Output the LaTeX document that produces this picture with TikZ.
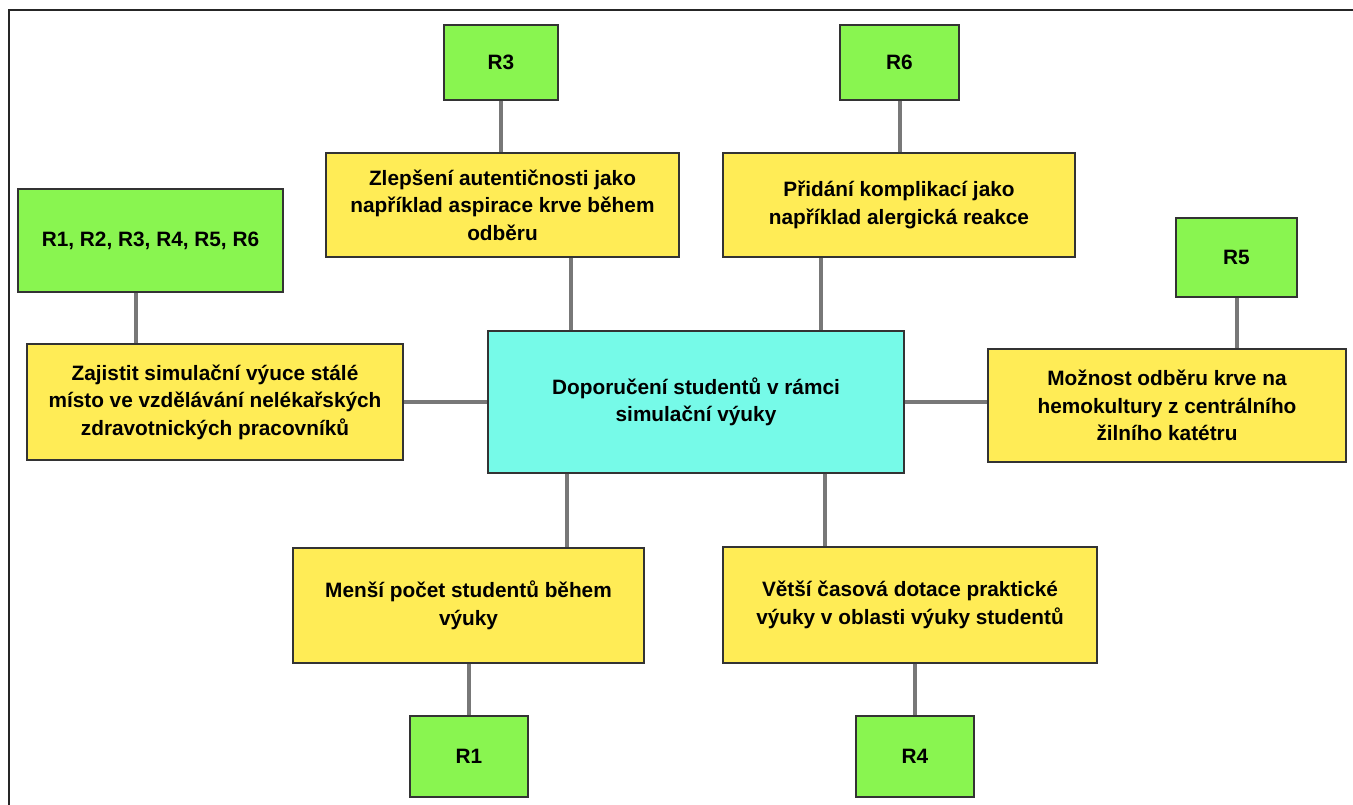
\documentclass[tikz,border=0pt]{standalone}
\usepackage{fontspec}
\setmainfont{Liberation Sans}
\usetikzlibrary{calc}

\definecolor{zelena}{RGB}{137,245,80}
\definecolor{zluta}{RGB}{255,236,86}
\definecolor{tyrkys}{RGB}{118,250,232}
\definecolor{sediva}{RGB}{120,120,120}

\tikzset{
  box/.style={draw=black!80, line width=1.3pt, inner sep=0pt, align=center,
    font=\fontsize{20.8}{27.5}\selectfont\bfseries},
  rbox/.style={box, fill=zelena},
  navrh/.style={box, fill=zluta},
  hlavni/.style={box, fill=tyrkys},
  spoj/.style={draw=sediva, line width=4pt},
  ramecek/.style={draw=black!85, line width=2pt}
}

\begin{document}
\begin{tikzpicture}[x=1pt,y=-1pt]
\useasboundingbox (0,0) rectangle (1353,805);
\draw[ramecek] (9,810) -- (9,10) -- (1360,10);

\node[hlavni, minimum width=416, minimum height=142] (stred) at (696,402) {Doporučení studentů v rámci\\simulační výuky};

\node[navrh, minimum width=353, minimum height=104] (zlepseni) at (502.5,205) {Zlepšení autentičnosti jako\\například aspirace krve během\\odběru};
\node[navrh, minimum width=352, minimum height=104] (pridani) at (899,205) {Přidání komplikací jako\\například alergická reakce};
\node[navrh, minimum width=376, minimum height=116] (zajistit) at (215,402) {Zajistit simulační výuce stálé\\místo ve vzdělávání nelékařských\\zdravotnických pracovníků};
\node[navrh, minimum width=358, minimum height=113] (moznost) at (1167,405.5) {Možnost odběru krve na\\hemokultury z centrálního\\žilního katétru};
\node[navrh, minimum width=351, minimum height=115] (mensi) at (468.5,605.5) {Menší počet studentů během\\výuky};
\node[navrh, minimum width=374, minimum height=116] (vetsi) at (910,605) {Větší časová dotace praktické\\výuky v oblasti výuky studentů};

\node[rbox, minimum width=265, minimum height=103] (vse) at (150.5,240.5) {R1, R2, R3, R4, R5, R6};
\node[rbox, minimum width=114, minimum height=75] (r3) at (501,62.5) {R3};
\node[rbox, minimum width=119, minimum height=75] (r6) at (899.5,62.5) {R6};
\node[rbox, minimum width=121, minimum height=79] (r5) at (1236.5,257.5) {R5};
\node[rbox, minimum width=118, minimum height=81] (r1) at (469,756.5) {R1};
\node[rbox, minimum width=118, minimum height=81] (r4) at (915,756.5) {R4};

% spojnice
\draw[spoj] ($(stred.north west)!.2!(stred.north east)$) coordinate (s1) -- (s1 |- zlepseni.south);
\draw[spoj] ($(stred.north west)!.8!(stred.north east)$) coordinate (s2) -- (s2 |- pridani.south);
\draw[spoj] ($(stred.south west)!.19!(stred.south east)$) coordinate (s3) -- (s3 |- mensi.north);
\draw[spoj] ($(stred.south west)!.81!(stred.south east)$) coordinate (s4) -- (s4 |- vetsi.north);
\draw[spoj] (zajistit.east) -- (stred.west);
\draw[spoj] (stred.east) -- (stred.east -| moznost.west);
\draw[spoj] (r3) -- (r3 |- zlepseni.north);
\draw[spoj] (r6) -- (r6 |- pridani.north);
\draw[spoj] (r5) -- (r5 |- moznost.north);
\draw[spoj] (mensi.south -| r1) -- (r1);
\draw[spoj] (vetsi.south -| r4) -- (r4);
\draw[spoj] ($(zajistit.north west)!.29!(zajistit.north east)$) coordinate (z1) -- (z1 |- vse.south);
\end{tikzpicture}
\end{document}
